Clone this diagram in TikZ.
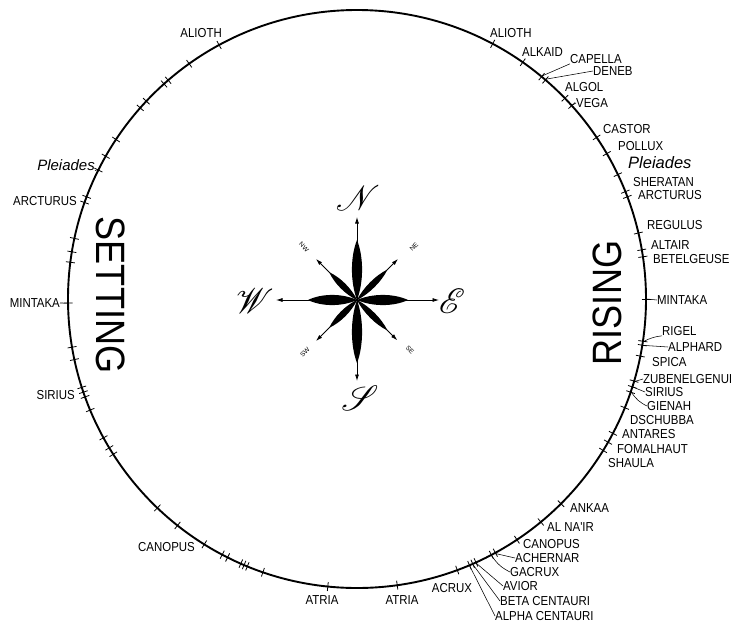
\documentclass[tikz,border=0pt]{standalone}
\usepackage{fontspec}
\setmainfont{Liberation Sans}
\newfontfamily\lblfont{Liberation Sans}[FakeStretch=0.88]
\usepackage{mathrsfs}
\usepackage{graphicx}
\usetikzlibrary{calc,arrows.meta}
\begin{document}
\begin{tikzpicture}[x=1pt,y=-1pt,
  tickmark/.style={line width=0.8pt},
  lead/.style={line width=0.55pt},
  lbl/.style={font=\lblfont\fontsize{13}{14}\selectfont, inner sep=0pt},
  lblw/.style={lbl, anchor=west},
  lble/.style={lbl, anchor=east},
  pl/.style={font=\fontsize{15}{16}\selectfont\itshape, inner sep=0pt},
  bigword/.style={font=\lblfont\fontsize{41}{41}\selectfont, inner sep=0pt},
  arr/.style={line width=0.75pt, -{Latex[length=6.5pt,width=4pt]}},
  dirsmall/.style={font=\fontsize{6.5}{6.5}\selectfont, inner sep=0pt},
  cardinal/.style={font=\fontsize{20}{20}\selectfont, inner sep=0pt}]
\useasboundingbox (0,0) rectangle (731,624);
\clip (0,0) rectangle (731,624);
\coordinate (O) at (357,299);
\draw[line width=1.9pt] (O) circle[radius=289pt];
% tick marks
\foreach \a in {118.5,125.5,130.8,131.9,136.8,138.6,146.5,150.4,153.5,159.3,160.5,167.9,170.6,172.7,180.8,189.6,192.1,197.8,198.8,199.8,202.6,208.7,211,212.5,226.3,231.6,238.1,242.2,243.4,246.3,247,247.7,251,264.2,278,290.3,292.9,293.6,294.3,297.7,298.6,303.6,309.5,314.9,328.4,330.3,332.3,337.9,341.2,342.3,343.5,348.6,350.8,351.6,0,8.4,9.8,13.2,20.7,21.8,25.5,30.2,34,42,44,49.3,50.3,55,62}
  \draw[tickmark] ($(O)+(\a:284.5pt)$) -- ($(O)+(\a:293.5pt)$);
% leader start points
\foreach \n/\a in {capT/50.3,denT/49.3,vegT/42,minRT/0,rigT/351.6,alpT/350.8,zubT/343.5,sirRT/342.3,gieT/341.2,achT/298.6,gacT/297.7,aviT/294.3,betT/293.6,alpcT/292.9,pleLT/153.5,minLT/180.8}
  \coordinate (\n) at ($(O)+(\a:290pt)$);
% right side labels
\node[lblw] (aliothR) at (490,33) {ALIOTH};
\node[lblw] (alkaid) at (522,52) {ALKAID};
\node[lblw] (capella) at (570,59) {CAPELLA};
\node[lblw] (deneb) at (593,71) {DENEB};
\node[lblw] (algol) at (565,87) {ALGOL};
\node[lblw] (vega) at (576,103) {VEGA};
\node[lblw] (castor) at (603,129) {CASTOR};
\node[lblw] (pollux) at (618,146) {POLLUX};
\node[pl, anchor=west, font=\fontsize{16.5}{17}\selectfont\itshape] (pleR) at (628,163) {Pleiades};
\node[lblw] (sheratan) at (633,182) {SHERATAN};
\node[lblw] (arcturusR) at (638,195) {ARCTURUS};
\node[lblw] (regulus) at (647,225) {REGULUS};
\node[lblw] (altair) at (651,245) {ALTAIR};
\node[lblw] (betelgeuse) at (653,259) {BETELGEUSE};
\node[lblw] (mintakaR) at (657,300) {MINTAKA};
\node[lblw] (rigel) at (662,331) {RIGEL};
\node[lblw] (alphard) at (668,347) {ALPHARD};
\node[lblw] (spica) at (652,362) {SPICA};
\node[lblw] (zuben) at (643,379) {ZUBENELGENUBI};
\node[lblw] (siriusR) at (645,392) {SIRIUS};
\node[lblw] (gienah) at (647,406) {GIENAH};
\node[lblw] (dschubba) at (630,420) {DSCHUBBA};
\node[lblw] (antares) at (622,434) {ANTARES};
\node[lblw] (fomalhaut) at (617,449) {FOMALHAUT};
\node[lblw] (shaula) at (608,463) {SHAULA};
\node[lblw] (ankaa) at (570,508) {ANKAA};
\node[lblw] (alnair) at (547,527) {AL NA'IR};
\node[lblw] (canopusR) at (523,544) {CANOPUS};
\node[lblw] (achernar) at (515,558) {ACHERNAR};
\node[lblw] (gacrux) at (510,572) {GACRUX};
\node[lblw] (avior) at (503,586) {AVIOR};
\node[lblw] (betac) at (500,601) {BETA CENTAURI};
\node[lblw] (alphac) at (495,616) {ALPHA CENTAURI};
% bottom labels
\node[lbl] (acrux) at (452,588) {ACRUX};
\node[lbl] (atriaR) at (402,600) {ATRIA};
\node[lbl] (atriaL) at (322,600) {ATRIA};
% left labels
\node[lble] (canopusL) at (195,547) {CANOPUS};
\node[lble] (siriusL) at (75,395) {SIRIUS};
\node[lble] (mintakaL) at (60,303) {MINTAKA};
\node[lble] (arcturusL) at (77,201) {ARCTURUS};
\node[pl, anchor=east] (pleL) at (95,165) {Pleiades};
\node[lble] (aliothL) at (222,33) {ALIOTH};
% leaders
\draw[lead] (capT) -- (capella.south west);
\draw[lead] (denT) -- (deneb.west);
\draw[lead] (vegT) -- (vega.west);
\draw[lead] (minRT) -- (mintakaR.west);
\draw[lead] (rigT) to[bend left=10] (rigel.south west);
\draw[lead] (alpT) -- (alphard.west);
\draw[lead] (zubT) -- (zuben.west);
\draw[lead] (sirRT) -- (siriusR.west);
\draw[lead] (gieT) to[bend right=15] (gienah.west);
\draw[lead] (achT) -- (achernar.west);
\draw[lead] (gacT) to[bend right=15] (gacrux.west);
\draw[lead] (aviT) -- (avior.west);
\draw[lead] (betT) -- (betac.west);
\draw[lead] (alpcT) -- (alphac.west);
\draw[lead] (pleLT) -- (pleL.south east);
\draw[lead] (minLT) -- (mintakaL.east);
% big words
\node[bigword, rotate=-90] (setting) at (111,295) {SETTING};
\node[bigword, rotate=90] (rising) at (607,303) {RISING};
% compass
\coordinate (C) at (357,300);
\foreach \ang/\len/\hw in {90/60/5,270/63/5,0/51/5,180/49/5,45/43/3.2,135/39/3.2,225/39/3.2,315/43/3.2}
  \fill[shift={(C)}, rotate=\ang] (0,0) .. controls ({0.3*\len},{1.35*\hw}) and ({0.72*\len},{1.35*\hw}) .. (\len,0) .. controls ({0.72*\len},{-1.35*\hw}) and ({0.3*\len},{-1.35*\hw}) .. cycle;
\foreach \n/\ang/\len in {aN/90/83pt,aS/270/81pt,aE/0/82pt,aW/180/81pt,aNE/45/58pt,aNW/135/58pt,aSW/225/58pt,aSE/315/57pt}
  \coordinate (\n) at ($(C)+(\ang:\len)$);
\foreach \n in {aN,aS,aE,aW,aNE,aNW,aSW,aSE}
  \draw[arr] (C) -- (\n);
\node[cardinal] (dN) at (358,198) {\scalebox{1.7}{$\mathscr{N}$}};
\node[cardinal] (dE) at (452,301) {\scalebox{1.7}{$\mathscr{E}$}};
\node[cardinal] (dW) at (255,301) {\scalebox{1.7}{$\mathscr{W}$}};
\node[cardinal] (dS) at (360,398) {\scalebox{1.7}{$\mathscr{S}$}};
\node[dirsmall, rotate=45] (dNE) at (414,247) {NE};
\node[dirsmall, rotate=-45] (dNW) at (304,247) {NW};
\node[dirsmall, rotate=45] (dSW) at (305,352) {SW};
\node[dirsmall, rotate=-45] (dSE) at (410,350) {SE};
\end{tikzpicture}
\end{document}
